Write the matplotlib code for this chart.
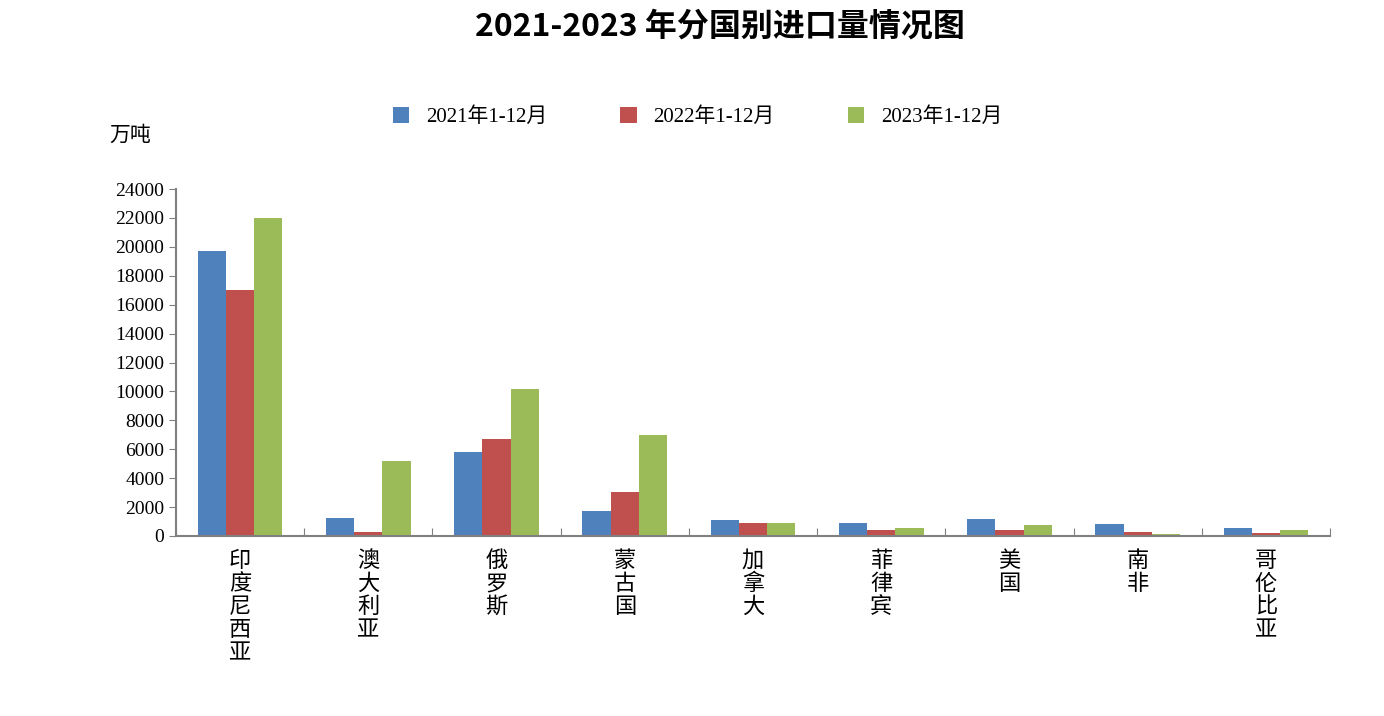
import matplotlib
matplotlib.use("Agg")
import matplotlib.pyplot as plt
import numpy as np

categories = ["印度尼西亚", "澳大利亚", "俄罗斯", "蒙古国", "加拿大", "菲律宾", "美国", "南非", "哥伦比亚"]
s2021 = [19700, 1250, 5800, 1700, 1100, 900, 1200, 800, 550]
s2022 = [17000, 250, 6700, 3050, 900, 400, 400, 270, 180]
s2023 = [22000, 5200, 10200, 7000, 900, 550, 750, 130, 420]
labels = ["2021年1-12月", "2022年1-12月", "2023年1-12月"]
colors = ["#4F81BD", "#C0504D", "#9BBB59"]

cjk = ["Noto Sans CJK SC", "DejaVu Sans"]
serif = ["Liberation Serif", "Noto Sans CJK SC"]

fig = plt.figure(figsize=(13.84, 7.16), dpi=100)
ax = fig.add_axes([176/1384, 1-536/716, 1154/1384, 347/716])
x = np.arange(len(categories))
w = 0.22
for i, (s, c, l) in enumerate(zip([s2021, s2022, s2023], colors, labels)):
    ax.bar(x + (i-1)*w, s, w, color=c, label=l)
ax.set_xlim(-0.5, len(categories)-0.5)
ax.set_ylim(0, 24000)
ax.set_yticks(range(0, 24001, 2000))
ax.set_yticklabels([str(v) for v in range(0, 24001, 2000)], family=serif, fontsize=14)
ax.set_xticks(np.arange(-0.5, len(categories), 1))
ax.set_xticklabels([])
ax.tick_params(axis='x', length=6, direction='in', color='#808080')
ax.tick_params(axis='y', length=5, direction='out', color='#808080')
for sp in ["top", "right"]:
    ax.spines[sp].set_visible(False)
for sp in ["left", "bottom"]:
    ax.spines[sp].set_color('#808080')
    ax.spines[sp].set_linewidth(1.5)
for i, c in enumerate(categories):
    ax.text(i, -900, "\n".join(c), ha='center', va='top', family=cjk, fontsize=16, linespacing=1.0)
ax.legend(loc='upper center', bbox_to_anchor=(0.452, 1.29), ncol=3, frameon=False,
          prop={'family': serif, 'size': 15}, handlelength=0.8, handleheight=0.8, columnspacing=3.5)
fig.text(130/1384, 1-135/716, "万吨", family=cjk, fontsize=15, ha='center', va='center')
fig.text(0.52, 1-27/716, "2021-2023 年分国别进口量情况图", family=cjk, fontsize=23, fontweight='bold', ha='center', va='center')
fig.savefig("out.png", dpi=100)
